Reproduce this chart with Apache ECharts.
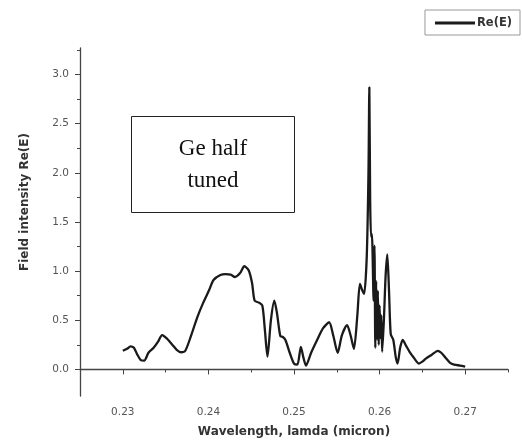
<!DOCTYPE html>
<html>
<head>
<meta charset="utf-8">
<script src="https://cdn.jsdelivr.net/npm/echarts@6/dist/echarts.min.js"></script>
<style>
  html, body { margin: 0; padding: 0; background: #fff; }
  #chart { width: 522px; height: 448px; }
</style>
</head>
<body>
<div id="chart"></div>
<script>
// wavelength (micron) and Re(E)
var wavelength = [
  0.2300, 0.2305, 0.2309, 0.2313, 0.2317, 0.2321, 0.2325, 0.2330, 0.2336, 0.2341,
  0.2346, 0.2352, 0.2358, 0.2363, 0.2368, 0.2373, 0.2380, 0.2387, 0.2394, 0.2401,
  0.2406, 0.2414, 0.2420, 0.2426, 0.2431, 0.2437, 0.2442, 0.2447, 0.2451, 0.2454,
  0.2459, 0.2463, 0.2466, 0.2469, 0.2473, 0.2477, 0.2480, 0.2484, 0.2487, 0.2490,
  0.2495, 0.2500, 0.2504, 0.2508, 0.2511, 0.2514, 0.2520, 0.2527, 0.2534, 0.2541,
  0.2546, 0.2551, 0.2556, 0.2562, 0.2566, 0.2570, 0.2574, 0.2577, 0.2580, 0.2582,
  0.2585, 0.2587, 0.2588, 0.2589, 0.2590, 0.2591, 0.2593, 0.2594, 0.2595, 0.2596,
  0.2597, 0.2598, 0.2599, 0.2600, 0.2601, 0.2602, 0.2603, 0.2605, 0.2607, 0.2609,
  0.2611, 0.2613, 0.2616, 0.2619, 0.2621, 0.2624, 0.2627, 0.2631, 0.2635, 0.2640,
  0.2646, 0.2650, 0.2654, 0.2661, 0.2668, 0.2672, 0.2677, 0.2682, 0.2687, 0.2694,
  0.2700
];
var reE = [
  0.19, 0.21, 0.235, 0.22, 0.15, 0.095, 0.09, 0.17, 0.22, 0.28,
  0.35, 0.31, 0.25, 0.20, 0.175, 0.19, 0.35, 0.53, 0.68, 0.81,
  0.91, 0.96, 0.97, 0.965, 0.94, 0.98, 1.05, 1.01, 0.88, 0.70,
  0.68, 0.65, 0.40, 0.13, 0.50, 0.70, 0.58, 0.34, 0.33, 0.30,
  0.17, 0.06, 0.05, 0.23, 0.12, 0.04, 0.17, 0.30, 0.42, 0.48,
  0.34, 0.17, 0.35, 0.45, 0.35, 0.21, 0.55, 0.87, 0.80, 0.77,
  1.15, 2.00, 2.87, 1.70, 1.35, 1.38, 0.70, 1.26, 0.22, 0.90,
  0.30, 0.80, 0.25, 0.65, 0.32, 0.55, 0.18, 0.50, 0.95, 1.17,
  0.80, 0.36, 0.30, 0.12, 0.06, 0.22, 0.30, 0.24, 0.18, 0.12,
  0.06, 0.08, 0.11, 0.15, 0.19, 0.17, 0.12, 0.07, 0.05, 0.04,
  0.03
];
var xTicks = [0.23, 0.24, 0.25, 0.26, 0.27];
var xMinorTicks = [0.235, 0.245, 0.255, 0.265, 0.275];
var yTicks = [0, 0.5, 1.0, 1.5, 2.0, 2.5, 3.0];
var yMinorTicks = [0.25, 0.75, 1.25, 1.75, 2.25, 2.75, 3.25];

var data = wavelength.map(function (w, i) { return [w, reE[i]]; });

var chart = echarts.init(document.getElementById('chart'));
var axisColor = '#444';
var labelColor = '#555';
var font = 'DejaVu Sans';

var option = {
  backgroundColor: '#fff',
  animation: false,
  grid: { left: 80, right: 14, top: 48, bottom: 52 },
  legend: {
    right: 2, top: 10,
    padding: [7, 8, 6, 10],
    borderColor: '#999', borderWidth: 1,
    itemWidth: 40, itemHeight: 3, itemGap: 2,
    icon: 'rect',
    textStyle: { fontFamily: font, fontWeight: 'bold', fontSize: 11.5, color: '#333', padding: [0, 0, 0, -3] },
    data: ['Re(E)']
  },
  xAxis: [{
    type: 'value', min: 0.225, max: 0.275,
    position: 'bottom',
    name: 'Wavelength, lamda (micron)',
    nameLocation: 'middle', nameGap: 30,
    nameTextStyle: { fontFamily: font, fontWeight: 'bold', fontSize: 12, color: '#333' },
    splitLine: { show: false },
    axisLine: { lineStyle: { color: axisColor, width: 1.3 } },
    axisTick: { customValues: xTicks, length: 5, inside: false, lineStyle: { color: axisColor } },
    axisLabel: {
      customValues: xTicks, margin: 11,
      fontFamily: font, fontSize: 10.5, color: labelColor,
      formatter: function (v) { return v.toFixed(2); }
    }
  }, {
    type: 'value', min: 0.225, max: 0.275,
    position: 'bottom', offset: 0,
    splitLine: { show: false },
    axisLine: { show: false },
    axisTick: { customValues: xMinorTicks, length: 3, lineStyle: { color: axisColor } },
    axisLabel: { show: false }
  }],
  yAxis: [{
    type: 'value', min: -0.27, max: 3.27,
    position: 'left',
    name: 'Field intensity Re(E)',
    nameLocation: 'middle', nameGap: 49,
    nameTextStyle: { fontFamily: font, fontWeight: 'bold', fontSize: 12, color: '#333', padding: [0, 0, 0, 40] },
    splitLine: { show: false },
    axisLine: { show: true, lineStyle: { color: axisColor, width: 1.3 } },
    axisTick: { show: true, customValues: yTicks, length: 5, lineStyle: { color: axisColor } },
    axisLabel: {
      customValues: yTicks, margin: 11,
      fontFamily: font, fontSize: 10.5, color: labelColor,
      formatter: function (v) { return v.toFixed(1); }
    }
  }, {
    type: 'value', min: -0.27, max: 3.27,
    position: 'left', offset: 0,
    splitLine: { show: false },
    axisLine: { show: false },
    axisTick: { show: true, customValues: yMinorTicks, length: 3, lineStyle: { color: axisColor } },
    axisLabel: { show: false }
  }],
  series: [{
    name: 'Re(E)',
    type: 'line',
    data: data,
    showSymbol: false,
    smooth: 0.25,
    lineStyle: { color: '#1a1a1a', width: 2.3 },
    itemStyle: { color: '#1a1a1a' }
  }],
  graphic: [{
    type: 'group',
    left: 131, top: 116,
    children: [{
      type: 'rect',
      shape: { x: 0, y: 0, width: 163, height: 96 },
      style: { fill: '#fff', stroke: '#222', lineWidth: 1 }
    }, {
      type: 'text',
      x: 81.5, y: 48,
      style: {
        text: 'Ge half\ntuned',
        font: '23px "Liberation Serif"',
        fill: '#111',
        align: 'center', verticalAlign: 'middle',
        lineHeight: 32
      }
    }]
  }]
};

chart.setOption(option);
</script>
</body>
</html>
